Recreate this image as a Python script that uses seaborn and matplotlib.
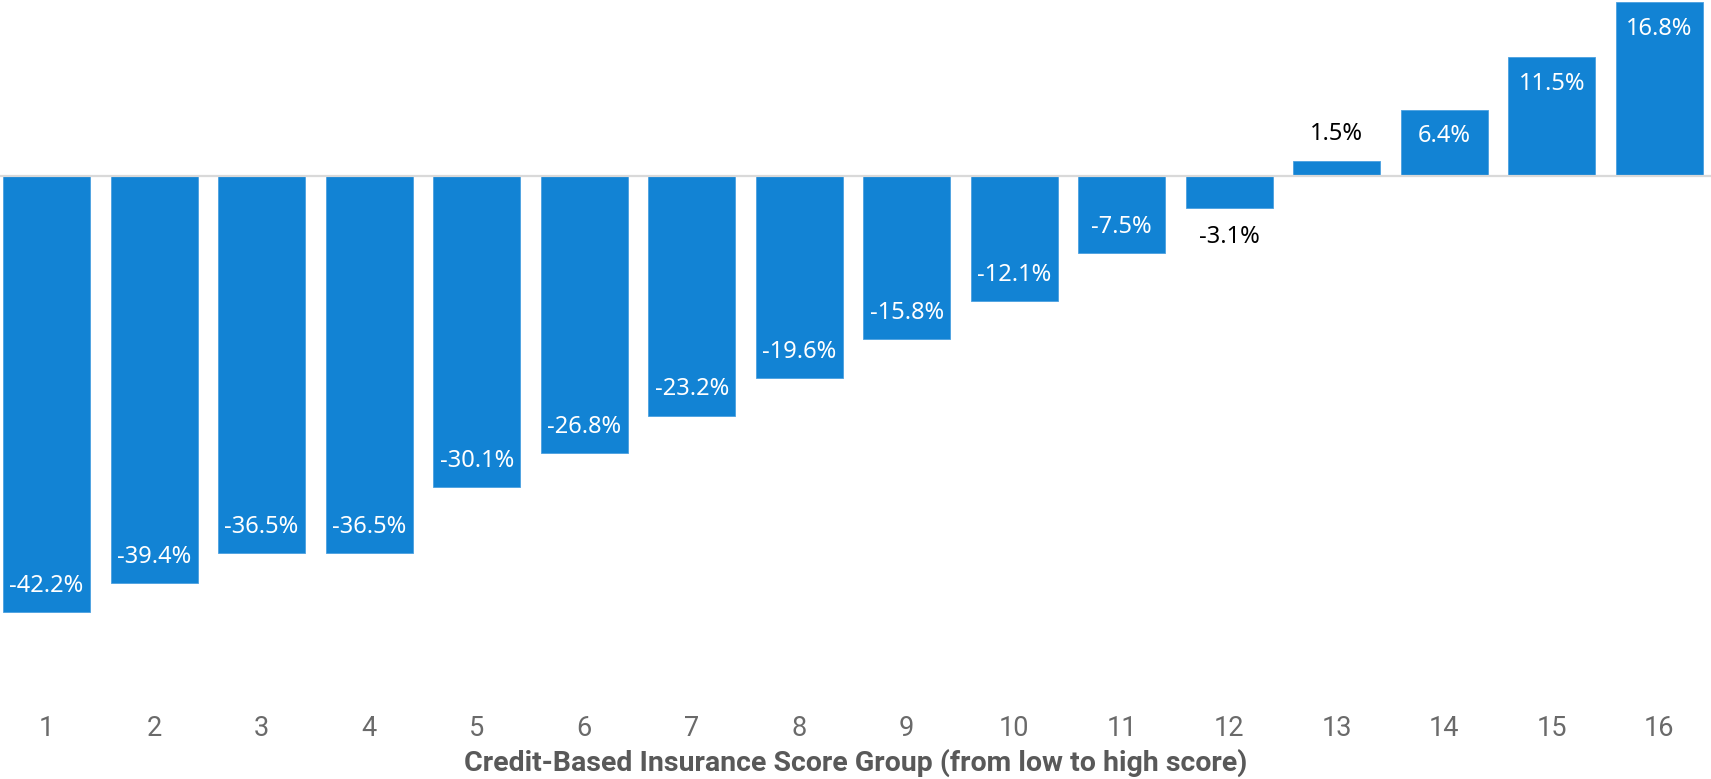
import matplotlib
matplotlib.use("Agg")
import matplotlib.pyplot as plt
import pandas as pd
import seaborn as sns

## Data
groups = [str(i) for i in range(1, 17)]
pct_change = [-42.2, -39.4, -36.5, -36.5, -30.1, -26.8, -23.2, -19.6,
              -15.8, -12.1, -7.5, -3.1, 1.5, 6.4, 11.5, 16.8]
x_title = "Credit-Based Insurance Score Group (from low to high score)"

df = pd.DataFrame({"group": groups, "value": pct_change})

sns.set_style("white")
plt.rcParams["font.family"] = ["Noto Sans", "DejaVu Sans"]

bar_color = "#1283d4"
tick_color = "#6a6a6a"

W, H = 1711, 779
fig = plt.figure(figsize=(W / 100, H / 100), dpi=100)
ax_bottom_px = 705
ax = fig.add_axes([0, 1 - ax_bottom_px / H, 1, ax_bottom_px / H])

sns.barplot(data=df, x="group", y="value", order=groups, color=bar_color,
            width=0.81, saturation=1, ax=ax, edgecolor="#4aa0e0", linewidth=0.6)

px_per_unit = 10.33
zero_px = 176
ax.set_ylim(-(ax_bottom_px - zero_px) / px_per_unit, zero_px / px_per_unit)
ax.set_xlim(-0.433, 15.48)

ax.axhline(0, color="#d9d9d9", lw=1.6, zorder=3)

for spine in ax.spines.values():
    spine.set_visible(False)
ax.tick_params(axis="both", length=0)
ax.set_yticks([])
ax.set_ylabel("")

narrow = ["Roboto", "DejaVu Sans"]
for lab in ax.get_xticklabels():
    lab.set_family(narrow)
    lab.set_fontweight("normal")
    lab.set_fontsize(19.5)
    lab.set_color(tick_color)
ax.tick_params(axis="x", pad=7)

ax.set_xlabel(x_title, fontsize=20.5, fontweight="bold", color="#595959",
              family=narrow, labelpad=5)

## value labels
off = 2.55
for patch, v in zip(ax.patches, pct_change):
    cx = patch.get_x() + patch.get_width() / 2
    txt = f"{v:.1f}%"
    if abs(v) < 5:
        y = v + off if v > 0 else v - off - 0.3
        color = "black"
    else:
        y = v - off if v > 0 else v + off
        color = "white"
    ax.text(cx, y, txt, ha="center", va="center", fontsize=17,
            color=color, zorder=4)

fig.savefig("out.png", dpi=100)
